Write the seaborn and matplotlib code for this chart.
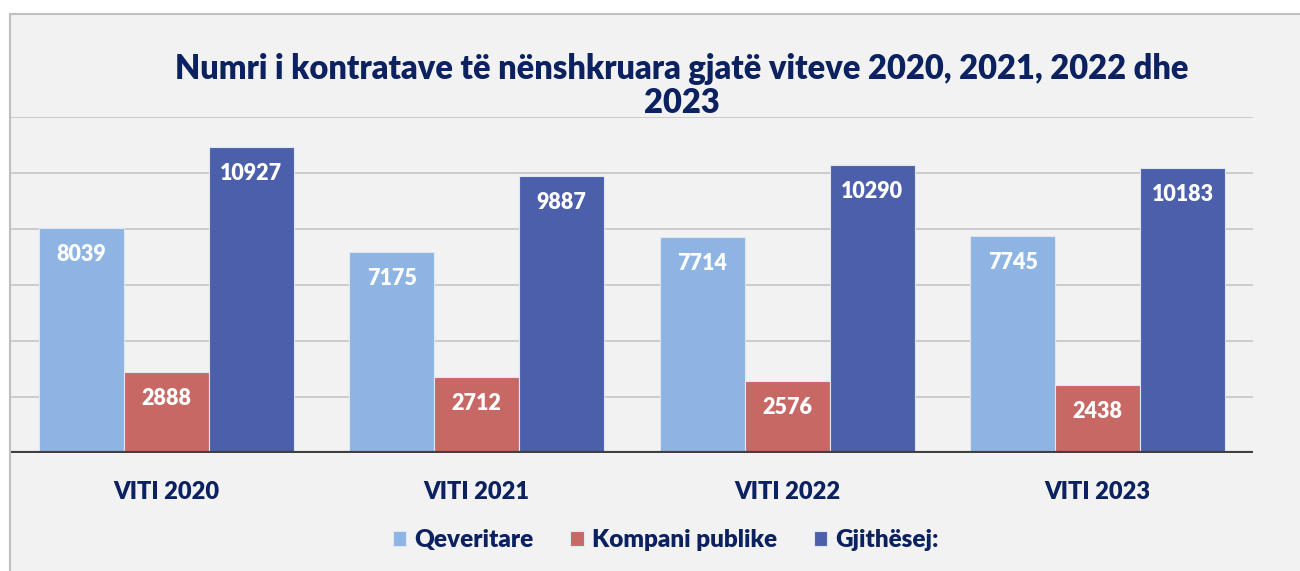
import pandas as pd
import seaborn as sns
import matplotlib.pyplot as plt
from matplotlib.patches import Rectangle

# values
years = ["VITI 2020", "VITI 2021", "VITI 2022", "VITI 2023"]
series = ["Qeveritare", "Kompani publike", "Gjithësej:"]
qeveritare = [8039, 7175, 7714, 7745]
kompani_publike = [2888, 2712, 2576, 2438]
gjithesej = [10927, 9887, 10290, 10183]
colors = ["#8eb4e3", "#c86865", "#4c5fab"]

navy = "#0b2160"

data = pd.DataFrame({
    "viti": years * 3,
    "lloji": [s for s in series for _ in years],
    "numri": qeveritare + kompani_publike + gjithesej,
})

sns.set_theme(style="white")
plt.rcParams["font.family"] = ["Lato", "DejaVu Sans"]

fig = plt.figure(figsize=(13, 5.71), dpi=100, facecolor="white")

# grey panel with border, like the exported office chart
panel = Rectangle((10 / 1300, -0.05), 1.1, 1 - 14 / 571 + 0.05,
                  transform=fig.transFigure, facecolor="#f2f2f2",
                  edgecolor="#bfbfbf", linewidth=1.5, zorder=-10)
fig.patches.append(panel)

ax = fig.add_axes([11 / 1300, 1 - 453 / 571, (1253 - 11) / 1300, (453 - 117) / 571])
ax.set_facecolor("none")

sns.barplot(
    data=data, x="viti", y="numri", hue="lloji",
    palette=dict(zip(series, colors)), width=0.82, saturation=1,
    edgecolor="#dfe7f3", linewidth=0.8, ax=ax, zorder=3,
)

ax.set_ylim(0, 12000)
ax.set_xlim(-0.5, 3.5)
ax.set_yticks(range(0, 12001, 2000))
ax.yaxis.grid(True, color="#c9c9c9", linewidth=1.3, zorder=0)
ax.set_axisbelow(True)
ax.tick_params(axis="y", left=False, labelleft=False)
ax.tick_params(axis="x", bottom=False, pad=14)
for s in ax.spines.values():
    s.set_visible(False)
ax.axhline(0, color="#404040", linewidth=3, zorder=5)

ax.set_xlabel("")
ax.set_ylabel("")
for lbl in ax.get_xticklabels():
    lbl.set_fontsize(17)
    lbl.set_fontweight("heavy")
    lbl.set_color(navy)

# value labels inside the bars, near the top
for cont in ax.containers:
    for bar in cont:
        h = bar.get_height()
        ax.annotate(f"{int(round(h))}", (bar.get_x() + bar.get_width() / 2, h),
                    xytext=(0, -19), textcoords="offset points",
                    ha="center", va="center", color="white",
                    fontsize=15.5, fontweight="heavy", zorder=6)

handles, labels = ax.get_legend_handles_labels()
ax.legend_.remove()
fig.legend(handles, labels, loc="center", bbox_to_anchor=(666 / 1300, 1 - 540 / 571),
           ncol=3, frameon=False, handlelength=0.55, handleheight=0.55,
           handletextpad=0.35, columnspacing=1.5,
           prop={"weight": "heavy", "size": 17.5}, labelcolor=navy)

fig.text(682 / 1300, 1 - 86 / 571,
         "Numri i kontratave të nënshkruara gjatë viteve 2020, 2021, 2022 dhe\n2023",
         ha="center", va="center", fontsize=23.5, fontweight="heavy", color=navy,
         linespacing=1.05)

fig.savefig("out.png", dpi=100, facecolor=fig.get_facecolor())
